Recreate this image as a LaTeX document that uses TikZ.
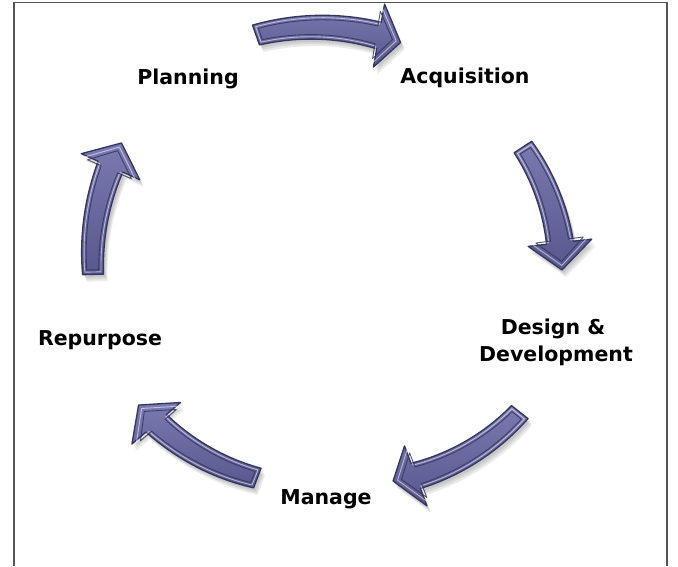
\documentclass[tikz,border=0pt]{standalone}
\usepackage{fontspec}
\newfontfamily\lblfont{DejaVu Sans}
\definecolor{arrowtop}{RGB}{122,122,176}
\definecolor{arrowbot}{RGB}{88,88,142}
\definecolor{arrowdark}{RGB}{52,52,96}
\definecolor{framegray}{RGB}{85,85,85}
\tikzset{
  lbl/.style={font=\lblfont\bfseries\fontsize{20.5}{24}\selectfont, text=black, inner sep=0pt, anchor=base},
  arrowface/.style={top color=arrowtop, bottom color=arrowbot, draw=arrowdark, line width=1.3pt, line join=round},
  arrowshade/.style={fill=black, fill opacity=0.08, draw=none},
  arrowlight/.style={draw=white, draw opacity=0.55, line width=0.9pt, line join=round},
  arrowrim/.style={draw=arrowdark, draw opacity=0.85, line width=0.9pt, line join=round},
  frameline/.style={draw=framegray, line width=1.5pt}
}
\def\cx{338}\def\cy{268}
\def\wtail{10.5}\def\whead{13.5}\def\hwid{32}
% a0 a1 a2 r0 r2 inset
\newcommand\setarrow[6]{%
  \pgfmathsetmacro\Az{#1}%
  \pgfmathsetmacro\Rz{#4}%
  \pgfmathsetmacro\Ao{#1-#6/#4*57.2958}%
  \pgfmathsetmacro\Ab{#2+0.6*#6/#4*57.2958}%
  \pgfmathsetmacro\At{#3+1.9*#6/#5*57.2958}%
  \pgfmathsetmacro\wo{\wtail-#6}%
  \pgfmathsetmacro\wb{\whead-#6}%
  \pgfmathsetmacro\hh{\hwid-1.8*#6}%
  \pgfmathsetmacro\kk{(#5-#4)/(#3-#1)}%
  \pgfmathsetmacro\Rb{#4+\kk*(\Ab-#1)}%
  \pgfmathsetmacro\Rt{#4+\kk*(\At-#1)}%
}
\newcommand\arrowpath{%
  plot[domain=0:1,samples=30] ({\cx+(\Rz+\kk*(\Ao+(\Ab-\Ao)*\x-\Az)+\wo+(\wb-\wo)*\x)*cos(\Ao+(\Ab-\Ao)*\x)},{\cy-(\Rz+\kk*(\Ao+(\Ab-\Ao)*\x-\Az)+\wo+(\wb-\wo)*\x)*sin(\Ao+(\Ab-\Ao)*\x)})
  -- ({\cx+(\Rb+\hh)*cos(\Ab)},{\cy-(\Rb+\hh)*sin(\Ab)})
  -- ({\cx+\Rt*cos(\At)},{\cy-\Rt*sin(\At)})
  -- ({\cx+(\Rb-\hh)*cos(\Ab)},{\cy-(\Rb-\hh)*sin(\Ab)})
  -- plot[domain=0:1,samples=30] ({\cx+(\Rz+\kk*(\Ab+(\Ao-\Ab)*\x-\Az)-\wb-(\wo-\wb)*\x)*cos(\Ab+(\Ao-\Ab)*\x)},{\cy-(\Rz+\kk*(\Ab+(\Ao-\Ab)*\x-\Az)-\wb-(\wo-\wb)*\x)*sin(\Ab+(\Ao-\Ab)*\x)})
  -- cycle}
\newcommand\cyclearrow[5]{%
  \setarrow{#1}{#2}{#3}{#4}{#5}{0}%
  \foreach \sx/\sy in {2/3,3/5,4/7}{\fill[arrowshade,shift={(\sx,\sy)}] \arrowpath;}%
  \path[arrowface] \arrowpath;
  \setarrow{#1}{#2}{#3}{#4}{#5}{2.4}%
  \path[arrowlight] \arrowpath;
  \setarrow{#1}{#2}{#3}{#4}{#5}{4.5}%
  \path[arrowrim] \arrowpath;
}
\begin{document}
\begin{tikzpicture}[x=1pt,y=-1pt]
\useasboundingbox (0,0) rectangle (678,566);
\path[frameline] (14,566) -- (14,2.5) -- (667,2.5) -- (667,566);
% arrows
\cyclearrow{109.4}{80}{74.5}{247}{234}
\cyclearrow{33.2}{6.5}{-0.5}{221}{224}
\cyclearrow{-38.4}{-69.5}{-75.5}{232}{220}
\cyclearrow{249}{220.5}{214.5}{225}{242}
\cyclearrow{181.5}{156}{150}{245}{250}
% labels
\node[lbl] (planning) at (188,84) {Planning};
\node[lbl] (acquisition) at (465,83) {Acquisition};
\node[lbl] (design) at (553,334) {Design \&};
\node[lbl] (development) at (556,361) {Development};
\node[lbl] (manage) at (326,504) {Manage};
\node[lbl] (repurpose) at (100,345) {Repurpose};
\end{tikzpicture}
\end{document}
